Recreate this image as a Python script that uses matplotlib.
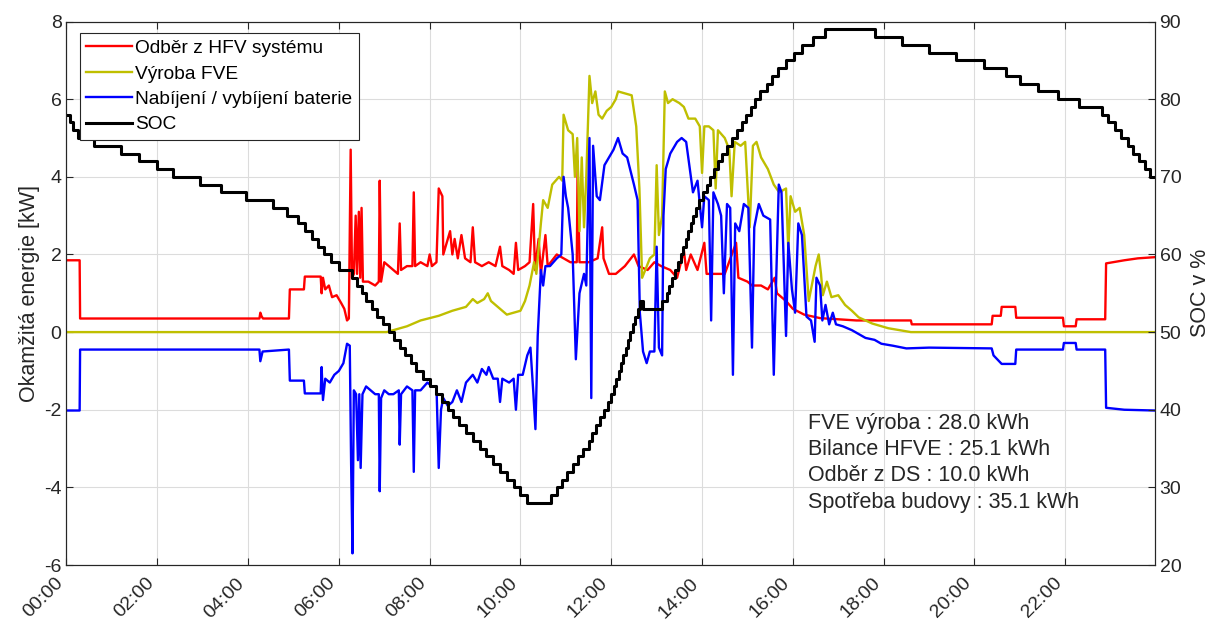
import numpy as np
import matplotlib
matplotlib.use("Agg")
import matplotlib.pyplot as plt

plt.rcParams['font.family'] = ['Liberation Sans', 'DejaVu Sans']
plt.rcParams['axes.unicode_minus'] = False

# --- data (time in hours, power in kW) ---
red_t = [0, 0.29, 0.30, 4.25, 4.27, 4.30, 4.33, 4.90, 4.92, 5.23, 5.25, 5.60, 5.62, 5.65, 5.70, 5.78,
         5.85, 5.95, 6.05, 6.12, 6.18, 6.22, 6.26, 6.29, 6.33, 6.37, 6.40, 6.44, 6.47, 6.50, 6.53,
         6.65, 6.80, 6.88, 6.90, 6.93, 7.00, 7.10, 7.20, 7.30, 7.34, 7.37, 7.50, 7.62, 7.65, 7.68,
         7.80, 7.95, 8.00, 8.05, 8.15, 8.20, 8.28, 8.30, 8.35, 8.45, 8.50, 8.55, 8.62, 8.70, 8.78,
         8.90, 8.95, 9.00, 9.15, 9.30, 9.45, 9.55, 9.60, 9.75, 9.85, 9.90, 9.95, 10.10, 10.20, 10.28,
         10.32, 10.40, 10.45, 10.55, 10.60, 10.80, 10.95, 11.10, 11.24, 11.26, 11.30, 11.50, 11.70,
         11.80, 11.83, 11.95, 12.10, 12.30, 12.50, 12.60, 12.80, 12.95, 13.10, 13.30, 13.45, 13.60,
         13.65, 13.75, 13.90, 14.05, 14.10, 14.35, 14.50, 14.75, 14.80, 15.00, 15.10, 15.30, 15.45,
         15.60, 15.65, 15.85, 16.00, 16.25, 16.60, 17.40, 18.60, 18.62, 20.38, 20.40, 20.58, 20.60,
         20.90, 20.92, 21.95, 21.97, 22.23, 22.25, 22.88, 22.90, 23.30, 23.60, 23.97]
red_v = [1.85, 1.85, 0.35, 0.35, 0.50, 0.40, 0.35, 0.35, 1.10, 1.10, 1.43, 1.43, 1.00, 1.40, 1.10, 1.20,
         0.90, 0.95, 0.75, 0.60, 0.30, 0.35, 4.70, 1.40, 1.50, 3.00, 1.50, 3.10, 1.40, 3.20, 1.30,
         1.30, 1.20, 1.30, 3.90, 1.30, 1.80, 1.70, 1.60, 1.50, 2.80, 1.60, 1.70, 1.70, 3.60, 1.70,
         1.80, 1.70, 2.00, 1.70, 1.80, 3.70, 3.50, 2.00, 2.20, 2.60, 2.00, 2.40, 1.90, 2.50, 1.90,
         1.80, 2.70, 1.80, 1.70, 1.80, 1.70, 2.20, 1.70, 1.60, 1.50, 2.30, 1.60, 1.70, 1.80, 3.30,
         1.60, 2.40, 1.50, 2.50, 1.70, 2.00, 1.90, 1.80, 1.80, 4.40, 1.80, 1.80, 1.90,
         2.70, 1.90, 1.50, 1.50, 1.70, 2.00, 1.70, 1.60, 1.80, 1.70, 1.60, 1.40, 2.10,
         1.60, 2.00, 1.60, 2.30, 1.50, 1.50, 1.50, 2.30, 1.40, 1.30, 1.20, 1.20, 1.10,
         1.40, 1.00, 0.80, 0.60, 0.45, 0.36, 0.30, 0.30, 0.20, 0.20, 0.42, 0.42, 0.65,
         0.65, 0.37, 0.37, 0.15, 0.15, 0.33, 0.33, 1.77, 1.85, 1.90, 1.93]

yel_t = [0, 7.05, 7.20, 7.50, 7.80, 8.20, 8.50, 8.80, 8.95, 9.05, 9.20, 9.28, 9.35, 9.50, 9.70, 9.85,
         10.00, 10.10, 10.20, 10.30, 10.35, 10.45, 10.50, 10.60, 10.70, 10.85, 10.92, 10.95, 11.00,
         11.05, 11.15, 11.20, 11.25, 11.30, 11.35, 11.40, 11.45, 11.52, 11.58, 11.65, 11.72, 11.80,
         11.90, 12.00, 12.10, 12.15, 12.30, 12.45, 12.55, 12.62, 12.68, 12.75, 12.85, 12.95, 13.00,
         13.05, 13.12, 13.18, 13.25, 13.35, 13.50, 13.60, 13.70, 13.85, 13.95, 14.00, 14.05, 14.15,
         14.25, 14.30, 14.35, 14.50, 14.60, 14.65, 14.72, 14.85, 14.95, 15.05, 15.12, 15.20, 15.30,
         15.45, 15.58, 15.70, 15.85, 15.90, 15.95, 16.05, 16.15, 16.25, 16.35, 16.50, 16.57, 16.62,
         16.66, 16.75, 16.85, 17.00, 17.15, 17.30, 17.45, 17.75, 18.10, 18.60, 23.97]
yel_v = [0, 0, 0.05, 0.15, 0.30, 0.42, 0.55, 0.65, 0.85, 0.75, 0.85, 1.00, 0.80, 0.65, 0.45, 0.50,
         0.55, 0.80, 1.20, 1.80, 1.50, 2.80, 3.40, 3.20, 3.80, 4.00, 3.90, 5.60, 5.40,
         5.20, 5.10, 4.00, 5.00, 2.60, 4.50, 2.70, 4.00, 6.60, 5.90, 6.20, 5.60, 5.50,
         5.70, 5.80, 6.00, 6.20, 6.15, 6.10, 5.30, 3.70, 1.40, 1.60, 1.90, 2.00, 4.30,
         2.50, 3.00, 6.20, 5.90, 6.00, 5.90, 5.80, 5.50, 5.50, 5.30, 4.10, 5.30, 5.30,
         5.20, 3.70, 5.20, 5.00, 4.70, 3.50, 4.90, 4.80, 4.90, 2.70, 4.80, 4.90, 4.50,
         4.20, 3.80, 3.60, 3.70, 2.10, 3.50, 3.10, 3.20, 2.50, 0.80, 1.70, 2.00, 1.50,
         0.95, 1.30, 0.90, 0.95, 0.70, 0.55, 0.38, 0.22, 0.10, 0.0, 0.0]

blue_t = [0, 0.29, 0.30, 4.25, 4.27, 4.32, 4.90, 4.92, 5.23, 5.25, 5.60, 5.62, 5.65, 5.70, 5.80, 5.90,
          6.00, 6.10, 6.18, 6.24, 6.27, 6.30, 6.33, 6.38, 6.42, 6.45, 6.48, 6.52, 6.60, 6.70, 6.80,
          6.88, 6.90, 6.93, 7.00, 7.10, 7.20, 7.32, 7.34, 7.37, 7.50, 7.62, 7.65, 7.68, 7.80, 7.95,
          8.05, 8.15, 8.20, 8.25, 8.30, 8.40, 8.50, 8.60, 8.70, 8.80, 8.95, 9.05, 9.15, 9.25, 9.30,
          9.40, 9.50, 9.55, 9.60, 9.75, 9.85, 9.90, 9.95, 10.05, 10.15, 10.22, 10.28, 10.33, 10.38,
          10.45, 10.50, 10.55, 10.65, 10.80, 10.90, 10.95, 11.00, 11.05, 11.15, 11.22, 11.30, 11.40,
          11.45, 11.52, 11.56, 11.60, 11.68, 11.75, 11.85, 11.95, 12.05, 12.15, 12.25, 12.35, 12.50,
          12.58, 12.63, 12.70, 12.78, 12.85, 12.95, 13.00, 13.05, 13.12, 13.15, 13.20, 13.30, 13.45,
          13.55, 13.65, 13.72, 13.80, 13.90, 14.00, 14.05, 14.15, 14.20, 14.25, 14.35, 14.42, 14.48,
          14.55, 14.62, 14.68, 14.73, 14.82, 14.92, 15.02, 15.10, 15.15, 15.25, 15.35, 15.50, 15.58,
          15.62, 15.69, 15.75, 15.85, 15.90, 15.98, 16.05, 16.12, 16.20, 16.30, 16.40, 16.48, 16.52,
          16.60, 16.65, 16.72, 16.80, 16.88, 16.95, 17.10, 17.30, 17.45, 17.60, 17.80, 17.95, 18.20,
          18.50, 19.00, 20.38, 20.42, 20.60, 20.90, 20.92, 21.95, 21.97, 22.23, 22.25, 22.88, 22.90,
          23.30, 23.97]
blue_v = [-2.02, -2.02, -0.45, -0.45, -0.75, -0.50, -0.45, -1.25, -1.25, -1.58, -1.58, -0.90, -1.75,
          -1.20, -1.30, -1.10, -1.00, -0.80, -0.30, -0.35, -3.40, -5.70, -1.50, -1.60, -3.30, -1.60,
          -3.50, -1.60, -1.40, -1.50, -1.60, -1.60, -4.10, -1.70, -1.50, -1.60, -1.60, -1.50, -2.90,
          -1.60, -1.40, -1.50, -3.60, -1.50, -1.50, -1.30, -1.40, -1.40, -3.50, -2.00, -1.70, -1.90,
          -1.80, -1.50, -1.80, -1.30, -1.10, -1.30, -0.95, -1.10, -0.90, -1.20, -1.20, -1.80, -1.20,
          -1.30, -1.20, -2.00, -1.10, -1.10, -0.60, -0.40, -1.50, -2.50, -0.10, 1.60, 1.20, 1.70,
          1.70, 1.90, 2.00, 4.00, 3.50, 3.20, 2.00, -0.70, 1.00, 1.50, 1.20, 5.00, -1.70, 4.80,
          3.50, 3.40, 4.30, 4.50, 4.70, 5.00, 4.60, 4.50, 3.80, 3.40, 0.50, -0.50, -0.80, -0.50,
          -0.50, 2.20, -0.40, -0.60, 3.00, 4.20, 4.60, 4.90, 5.00, 4.90, 4.30, 3.60, 3.90, 2.70,
          3.50, 3.40, 0.30, 3.60, 3.30, 3.00, 1.00, 3.30, 3.20, -1.10, 2.80, 2.60, 3.30, 3.20,
          -0.40, 2.70, 3.30, 3.00, 2.90, -1.10, 0.80, 3.80, 3.60, -0.10, 2.30, 1.10, 0.50, 2.80,
          2.50, 0.40, 0.30, -0.25, 1.40, 1.20, 0.30, 0.70, 0.20, 0.50, 0.20, 0.15, 0.05, -0.05,
          -0.15, -0.20, -0.30, -0.35, -0.42, -0.40, -0.42, -0.60, -0.82, -0.82, -0.45, -0.45,
          -0.28, -0.28, -0.45, -0.45, -1.95, -2.00, -2.02]

# SOC [%]: times (h) where the integer SOC changes, and the new value
soc_t = [0.00, 0.08, 0.15, 0.25, 0.60, 1.20, 1.60, 2.00, 2.35, 2.95, 3.40, 3.95, 4.55, 4.85, 5.10,
         5.25, 5.40, 5.55, 5.68, 5.82, 6.00, 6.30, 6.40, 6.50, 6.60, 6.72, 6.85, 6.97, 7.10, 7.22,
         7.34, 7.46, 7.58, 7.70, 7.85, 8.00, 8.15, 8.28, 8.40, 8.52, 8.65, 8.80, 8.95, 9.10, 9.25,
         9.40, 9.55, 9.70, 9.85, 10.00, 10.15,
         10.68, 10.80, 10.92, 11.03, 11.15, 11.27, 11.38, 11.50, 11.58, 11.66, 11.75, 11.83, 11.92,
         12.00, 12.05, 12.10, 12.16, 12.21, 12.26, 12.32, 12.37, 12.42, 12.47, 12.52, 12.58, 12.63,
         12.70, 13.12, 13.22, 13.28, 13.34, 13.40, 13.47, 13.53, 13.58, 13.64, 13.70, 13.75, 13.81,
         13.87, 13.93, 14.01, 14.10, 14.18, 14.27, 14.35, 14.45, 14.56, 14.66, 14.77, 14.87, 14.97,
         15.07, 15.17, 15.28, 15.42, 15.55, 15.68, 15.85, 16.02, 16.20, 16.45, 16.70,
         17.80, 18.40, 19.00, 19.60, 20.20, 20.70, 21.00, 21.40, 21.85, 22.30, 22.80, 22.95, 23.10,
         23.22, 23.38, 23.50, 23.62, 23.75, 23.87, 23.97]
soc_v = [78, 77, 76, 75, 74, 73, 72, 71, 70, 69, 68, 67, 66, 65, 64,
         63, 62, 61, 60, 59, 58, 57, 56, 55, 54, 53, 52, 51, 50, 49,
         48, 47, 46, 45, 44, 43, 42, 41, 40, 39, 38, 37, 36, 35, 34,
         33, 32, 31, 30, 29, 28,
         29, 30, 31, 32, 33, 34, 35, 36, 37, 38, 39, 40, 41,
         42, 43, 44, 45, 46, 47, 48, 49, 50, 51, 52, 53, 54,
         53, 54, 55, 56, 57, 58, 59, 60, 61, 62, 63, 64, 65,
         66, 67, 68, 69, 70, 71, 72, 73, 74, 75, 76, 77, 78,
         79, 80, 81, 82, 83, 84, 85, 86, 87, 88, 89,
         88, 87, 86, 85, 84, 83, 82, 81, 80, 79, 78, 77, 76,
         75, 74, 73, 72, 71, 70, 70]

tick_hours = [0, 2, 4, 6, 8, 10, 12, 14, 16, 18, 20, 22]
tick_labels = ['00:00', '02:00', '04:00', '06:00', '08:00', '10:00',
               '12:00', '14:00', '16:00', '18:00', '20:00', '22:00']

series_names = ['Odběr z HFV systému', 'Výroba FVE', 'Nabíjení / vybíjení baterie', 'SOC']
summary_lines = ['FVE výroba : 28.0 kWh', 'Bilance HFVE : 25.1 kWh',
                 'Odběr z DS : 10.0 kWh', 'Spotřeba budovy : 35.1 kWh']


def main():
    dark = '#262626'
    fig = plt.figure(figsize=(12.31, 6.25), dpi=100)
    ax = fig.add_axes([0.054, 0.096, 0.884, 0.8695])

    l1, = ax.plot(red_t, red_v, color=(1, 0, 0), lw=1.7)
    l2, = ax.plot(yel_t, yel_v, color=(0.75, 0.75, 0), lw=1.7)
    l3, = ax.plot(blue_t, blue_v, color=(0, 0, 1), lw=1.7)
    ax.set_xlim(0, 23.97)
    ax.set_ylim(-6, 8)
    ax.set_yticks(np.arange(-6, 9, 2))
    ax.set_xticks(tick_hours)
    ax.set_xticklabels(tick_labels, rotation=45, ha='right')
    ax.set_ylabel('Okamžitá energie [kW]', fontsize=15.5, color=dark, labelpad=3)
    ax.grid(True, color='#dcdcdc', lw=0.8)
    ax.set_axisbelow(True)
    ax.tick_params(axis='both', direction='in', labelsize=14, colors=dark, length=5)
    ax.tick_params(axis='x', top=True, pad=7)
    ax.tick_params(axis='y', right=False)

    # SOC na pravé ose
    ax2 = ax.twinx()
    l4, = ax2.plot(soc_t, soc_v, color='black', lw=2.2, drawstyle='steps-post')
    ax2.set_ylim(20, 90)
    ax2.set_yticks(np.arange(20, 91, 10))
    ax2.set_ylabel('SOC v %', fontsize=15.5, color=dark, labelpad=6)
    ax2.tick_params(axis='y', direction='in', labelsize=14, colors=dark, length=5)
    for a in (ax, ax2):
        for s in a.spines.values():
            s.set_color(dark)
            s.set_linewidth(0.8)

    leg = ax2.legend([l1, l2, l3, l4], series_names, loc='upper left',
                     bbox_to_anchor=(0.012, 0.979), borderaxespad=0, fontsize=13.8,
                     handlelength=2.4, handletextpad=0.15, labelspacing=0.42,
                     fancybox=False, framealpha=1, edgecolor=dark, borderpad=0.35)
    leg.get_frame().set_linewidth(0.8)

    ax2.text(0.681, 0.28, '\n'.join(summary_lines), transform=ax2.transAxes,
             fontsize=15.5, color=dark, va='top', ha='left', linespacing=1.33)

    fig.savefig('out.png', dpi=100)


if __name__ == "__main__":
    main()
